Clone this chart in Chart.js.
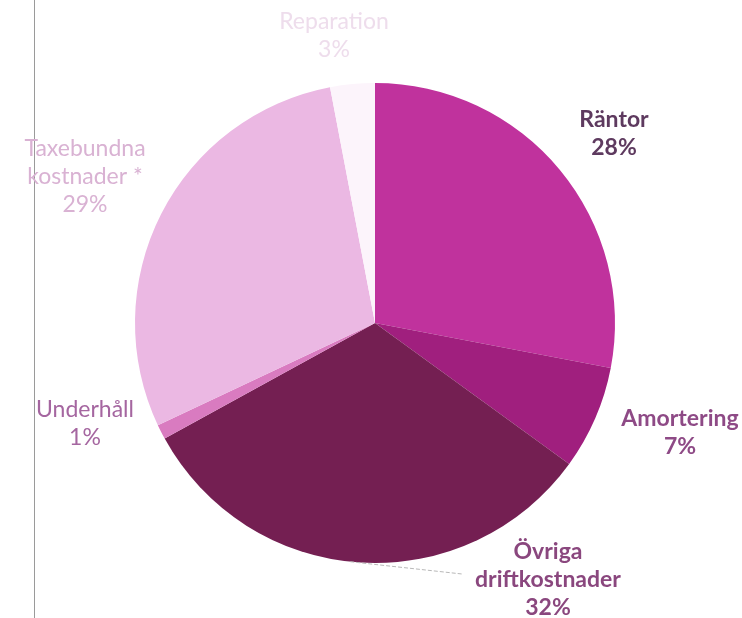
<!DOCTYPE html>
<html>
<head>
<meta charset="utf-8">
<script src="https://cdn.jsdelivr.net/npm/chart.js@4"></script>
<style>
html,body{margin:0;padding:0;background:#fff;}
#wrap{width:742px;height:618px;position:relative;}
</style>
</head>
<body>
<div id="wrap"><canvas id="c" width="742" height="618"></canvas></div>
<script>
const categories = ["Räntor", "Amortering", "Övriga driftkostnader", "Underhåll", "Taxebundna kostnader *", "Reparation"];
const values = [28, 7, 32, 1, 29, 3];
const labelLines = [["Räntor", "28%"], ["Amortering", "7%"], ["Övriga", "driftkostnader", "32%"], ["Underhåll", "1%"], ["Taxebundna", "kostnader *", "29%"], ["Reparation", "3%"]];
const sliceColors = ["#C0329D", "#A01F7E", "#741F52", "#D97BC0", "#EBB8E3", "#FCF4FB"];

// label styling/positions (text only)
const labelStyle = [
  {x: 614, y: 120, color: "#5E3A5F", weight: "bold"},
  {x: 680, y: 419, color: "#8E4A86", weight: "bold"},
  {x: 548, y: 552, color: "#8A477E", weight: "bold"},
  {x: 85, y: 410, color: "#A566A0", weight: "normal"},
  {x: 85, y: 149, color: "#D9B2D3", weight: "normal"},
  {x: 334, y: 22, color: "#EEDDEC", weight: "normal"}
];

const decor = {
  id: 'decor',
  beforeDraw(chart) {
    const ctx = chart.ctx;
    ctx.save();
    ctx.strokeStyle = '#9a9a9a';
    ctx.lineWidth = 1;
    ctx.beginPath();
    ctx.moveTo(34.5, 0);
    ctx.lineTo(34.5, 618);
    ctx.stroke();
    ctx.restore();
  },
  afterDraw(chart) {
    const ctx = chart.ctx;
    const meta = chart.getDatasetMeta(0);
    ctx.save();
    // leader line for Övriga
    const arc = meta.data[2];
    const ang = arc.startAngle + (arc.endAngle - arc.startAngle) * 0.52;
    const px = arc.x + Math.cos(ang) * arc.outerRadius;
    const py = arc.y + Math.sin(ang) * arc.outerRadius;
    ctx.strokeStyle = '#b8b8b8';
    ctx.lineWidth = 1;
    ctx.setLineDash([4, 2]);
    ctx.beginPath();
    ctx.moveTo(px, py);
    ctx.lineTo(462, 574);
    ctx.stroke();
    ctx.setLineDash([]);
    ctx.textAlign = 'center';
    ctx.textBaseline = 'middle';
    labelLines.forEach((lines, i) => {
      const s = labelStyle[i];
      ctx.fillStyle = s.color;
      ctx.font = s.weight + ' 23px Lato, "Open Sans", sans-serif';
      lines.forEach((t, j) => {
        ctx.fillText(t, s.x, s.y + j * 28);
      });
    });
    ctx.restore();
  }
};

new Chart(document.getElementById('c'), {
  type: 'pie',
  data: {
    labels: categories,
    datasets: [{
      data: values,
      backgroundColor: sliceColors,
      borderWidth: 0
    }]
  },
  options: {
    responsive: false,
    animation: false,
    layout: {padding: {top: 83, bottom: 55, left: 135, right: 127}},
    plugins: {legend: {display: false}, tooltip: {enabled: false}}
  },
  plugins: [decor]
});
</script>
</body>
</html>
